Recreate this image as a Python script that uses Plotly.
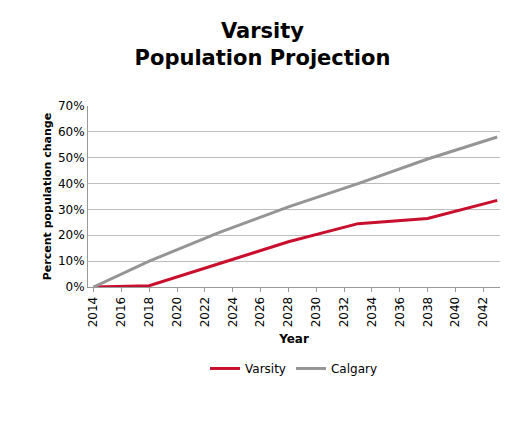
import plotly.graph_objects as go

years = [2014, 2018, 2023, 2028, 2033, 2038, 2043]
varsity = [0, 0.5, 9, 17.5, 24.5, 26.5, 33.5]
calgary = [0, 10, 21, 31, 40, 49.5, 58]
tick_years = list(range(2014, 2043, 2))
y_ticks = list(range(0, 71, 10))

fig = go.Figure()
fig.add_trace(go.Scatter(x=years, y=varsity, mode="lines", name="Varsity",
                         line=dict(color="#C8102E", width=3)))
fig.add_trace(go.Scatter(x=years, y=calgary, mode="lines", name="Calgary",
                         line=dict(color="#959595", width=3)))

fig.update_layout(
    width=509, height=425,
    paper_bgcolor="white", plot_bgcolor="white",
    font=dict(family="DejaVu Sans", size=12, color="black"),
    title=dict(text="<b>Varsity<br>Population Projection</b>", x=0.5, y=0.93,
               xanchor="center", yanchor="top", font=dict(size=21)),
    margin=dict(l=80, r=17, t=98, b=146),
    legend=dict(orientation="h", x=0.5, xanchor="center", y=-0.37, yanchor="top",
                font=dict(size=12)),
    xaxis=dict(range=[2013.6, 2043.2], tickmode="array", tickvals=tick_years,
               tickangle=-90, showgrid=False, showline=True, linecolor="#999",
               ticks="outside", ticklen=4, tickcolor="#999",
               title=dict(text="<b>Year</b>", font=dict(size=12), standoff=8)),
    yaxis=dict(range=[0, 70], tickmode="array", tickvals=y_ticks,
               ticktext=[f"{v}%" for v in y_ticks], tickfont=dict(size=12),
               showgrid=True, gridcolor="#bdbdbd", zeroline=False,
               showline=True, linecolor="#999",
               title=dict(text="<b>Percent population change</b>", font=dict(size=11), standoff=4)),
)

fig.write_html("out.html")
